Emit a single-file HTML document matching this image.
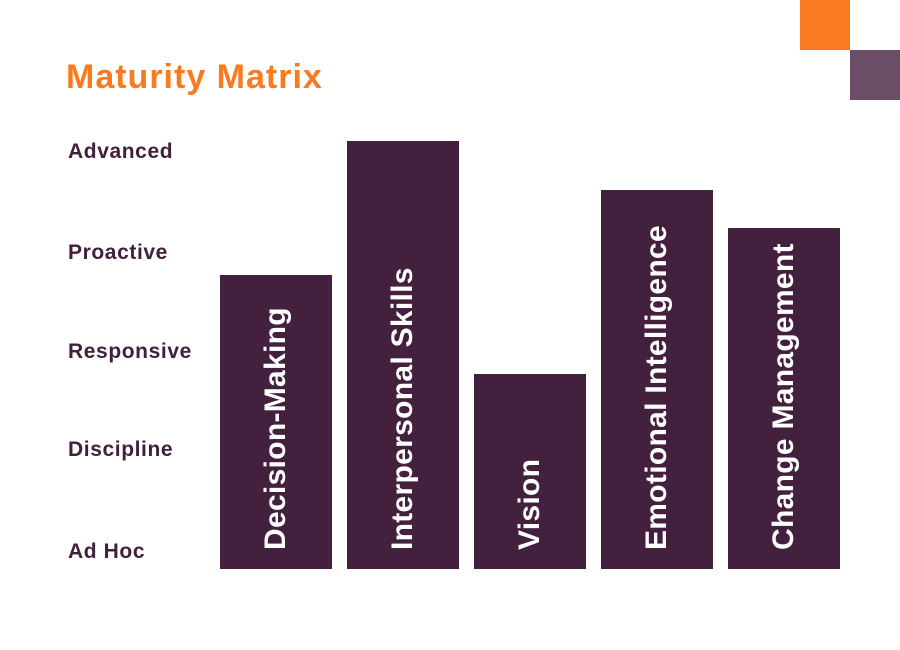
<!DOCTYPE html>
<html><head><meta charset="utf-8"><style>
body{margin:0;width:900px;height:650px;background:#fff;position:relative;overflow:hidden;font-family:"Liberation Sans",sans-serif;}
.sq{position:absolute;}
.title{position:absolute;left:66px;top:58px;font-size:34px;font-weight:bold;color:#f97a1f;letter-spacing:1px;}
.yl{position:absolute;left:68px;font-size:21px;font-weight:bold;color:#42203c;line-height:24px;letter-spacing:0.6px;}
.bar{position:absolute;width:112px;bottom:81px;background:#43203d;}
.bl{position:absolute;left:56px;bottom:19px;transform-origin:0 100%;transform:rotate(-90deg) translateY(50%);white-space:nowrap;color:#fff;font-weight:bold;font-size:30px;line-height:34px;letter-spacing:0.3px;}
</style></head><body>
<div class="sq" style="left:800px;top:0;width:50px;height:50px;background:#f97a1f"></div>
<div class="sq" style="left:850px;top:50px;width:50px;height:50px;background:#6b4e66"></div>
<div class="title">Maturity Matrix</div>
<div class="yl" style="top:140px">Advanced</div>
<div class="yl" style="top:241px">Proactive</div>
<div class="yl" style="top:340px">Responsive</div>
<div class="yl" style="top:438px">Discipline</div>
<div class="yl" style="top:540px">Ad Hoc</div>
<div class="bar" style="left:220px;top:275px"><div class="bl">Decision-Making</div></div>
<div class="bar" style="left:347px;top:141px"><div class="bl">Interpersonal Skills</div></div>
<div class="bar" style="left:474px;top:374px"><div class="bl">Vision</div></div>
<div class="bar" style="left:601px;top:190px"><div class="bl">Emotional Intelligence</div></div>
<div class="bar" style="left:728px;top:228px"><div class="bl">Change Management</div></div>
</body></html>
